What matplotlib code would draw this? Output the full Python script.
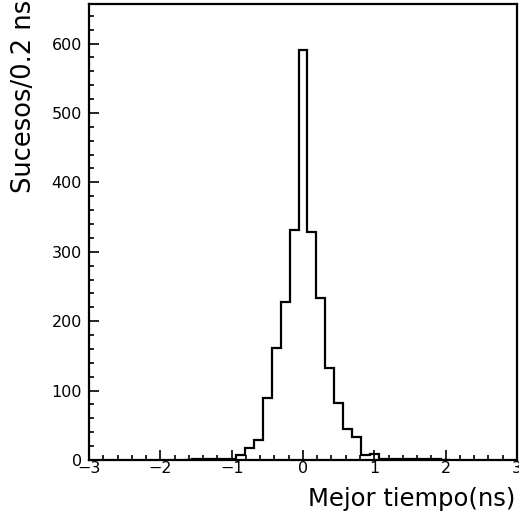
import matplotlib
matplotlib.use("Agg")
import matplotlib.pyplot as plt
import numpy as np
from matplotlib.ticker import MultipleLocator

# bin centres (ns), width 0.125 ns
bin_centres = [-1.625, -1.5, -1.375, -1.25, -1.125, -1.0, -0.875, -0.75, -0.625,
               -0.5, -0.375, -0.25, -0.125, 0.0, 0.125, 0.25, 0.375, 0.5, 0.625,
               0.75, 0.875, 1.0, 1.125, 1.25, 1.375, 1.5, 1.625, 1.75, 1.875, 2.0]
sucesos = [0, 1, 1, 1, 1, 2, 7, 17, 29,
           89, 162, 227, 331, 591, 329, 233, 132, 82, 45,
           33, 7, 9, 2, 1, 1, 1, 1, 1, 1, 0]
bin_width = 0.125

x_ticks = [-3, -2, -1, 0, 1, 2, 3]
y_ticks = [0, 100, 200, 300, 400, 500, 600]

edges = np.append(np.array(bin_centres) - bin_width / 2, bin_centres[-1] + bin_width / 2)

fig = plt.figure(figsize=(5.19, 5.19), dpi=100)
ax = fig.add_axes([0.1715, 0.1137, 0.8245, 0.8786])

ax.stairs(sucesos, edges, color="black", linewidth=1.6)

ax.set_xlim(-3, 3)
ax.set_ylim(0, 657)
ax.set_xticks(x_ticks)
ax.set_xticklabels(["\u22123", "\u22122", "\u22121", "0", "1", "2", "3"])
ax.set_yticks(y_ticks)
ax.xaxis.set_minor_locator(MultipleLocator(0.2))
ax.yaxis.set_minor_locator(MultipleLocator(20))
ax.tick_params(which="both", direction="in", top=False, right=False, labelsize=11.5, width=1.2)
ax.tick_params(which="major", length=7)
ax.tick_params(which="minor", length=3.5)
ax.tick_params(axis="x", pad=1)
ax.tick_params(axis="y", pad=5)

for s in ax.spines.values():
    s.set_linewidth(1.6)

fig.text(0.993, 0.025, "Mejor tiempo(ns)", ha="right", va="baseline", fontsize=17.5)
fig.text(0.046, 1.0, "Sucesos/0.2 ns", ha="center", va="top", rotation=90, fontsize=18.5)

fig.savefig("out.png", dpi=100)
